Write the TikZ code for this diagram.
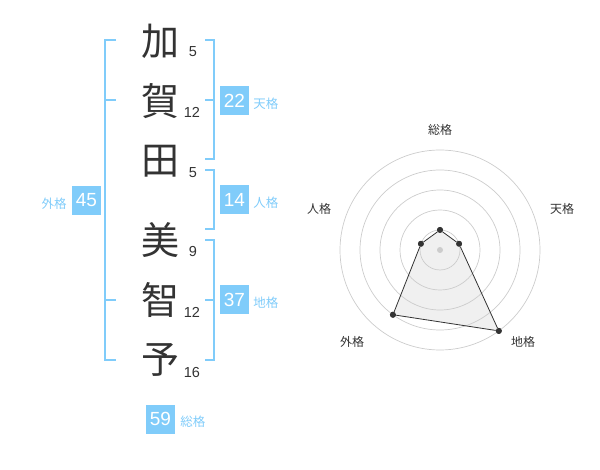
\documentclass[tikz,border=0pt]{standalone}
\usepackage{fontspec}
\setmainfont{Liberation Sans}
\newfontfamily\jfont{Noto Sans CJK JP}
\usetikzlibrary{positioning,calc}

\definecolor{kakublue}{RGB}{128,204,250}
\definecolor{inkgray}{RGB}{51,51,51}
\definecolor{ringgray}{RGB}{204,204,204}

\tikzset{
    brk/.style={draw=kakublue,line width=2pt},
    kaku/.style={fill=kakublue,text=white,minimum size=29pt,inner sep=0pt,font=\fontsize{19}{19}\selectfont},
    kakulbl/.style={text=kakublue,inner sep=0pt,font=\jfont\fontsize{12.5}{12.5}\selectfont},
    axislbl/.style={text=inkgray,inner sep=0pt,font=\jfont\fontsize{12}{12}\selectfont},
}

\begin{document}
\begin{tikzpicture}[x=1pt,y=-1pt]
    \useasboundingbox (0,0) rectangle (600,470);

        % name
        \begin{scope}[every node/.style={text=inkgray,inner sep=0pt,font=\jfont\fontsize{38}{38}\selectfont}]
            \node (k1) at (160,41) {加};
            \node (k2) at (160,101) {賀};
            \node (k3) at (160,161) {田};

            \node (k4) at (160,240) {美};
            \node (k5) at (160,300) {智};
            \node (k6) at (160,360) {予};
        \end{scope}
        \begin{scope}[every node/.style={text=inkgray,inner sep=0pt,font=\fontsize{14.5}{14.5}\selectfont}]
            \node (s1) at (193,52) {5};
            \node (s2) at (192,112.5) {12};
            \node (s3) at (193,172.5) {5};
            \node (s4) at (193,252) {9};
            \node (s5) at (192,312.5) {12};
            \node (s6) at (192,372.5) {16};
        \end{scope}

        % brackets
        \draw[brk] (116,40) -- (105,40) -- (105,360) -- (116,360);
        \draw[brk] (105,100) -- (116,100);
        \draw[brk] (105,300) -- (116,300);
        \draw[brk] (205,40) -- (214,40) -- (214,159) -- (205,159);
        \draw[brk] (205,100) -- (214,100);
        \draw[brk] (205,170) -- (214,170) -- (214,229) -- (205,229);
        \draw[brk] (205,240) -- (214,240) -- (214,360) -- (205,360);
        \draw[brk] (205,300) -- (214,300);

        % kaku
        \node[kaku] (ten) at (234.5,101) {22};
        \node[kaku] (jin) at (234.5,200) {14};
        \node[kaku] (chi) at (234.5,300) {37};
        \node[kaku] (gai) at (86.5,200.5) {45};
        \node[kaku] (sou) at (160.5,419) {59};

        \node[kakulbl,right=4pt of ten,yshift=-3pt] (tenl) {天格};
        \node[kakulbl,right=4pt of jin,yshift=-3pt] (jinl) {人格};
        \node[kakulbl,right=4pt of chi,yshift=-3pt] (chil) {地格};
        \node[kakulbl,left=5pt of gai,yshift=-3pt] (gail) {外格};
        \node[kakulbl,right=5pt of sou,yshift=-3pt] (soul) {総格};

        % radar
        \coordinate (c) at (440,250);
        \begin{scope}[every node/.style={circle,fill=inkgray,inner sep=0pt,minimum size=6pt}]
            \node (p1) at ($(c)+(-90:20)$) {};
            \node (p2) at ($(c)+(-18:20)$) {};
            \node (p3) at ($(c)+(54:100)$) {};
            \node (p4) at ($(c)+(126:80)$) {};
            \node (p5) at ($(c)+(198:20)$) {};
        \end{scope}
        \fill[black!6] (p1.center) -- (p2.center) -- (p3.center) -- (p4.center) -- (p5.center) -- cycle;
        \foreach \r in {20,40,60,80,100}
            \draw[ringgray,line width=0.7pt] (c) circle (\r pt);
        \fill[ringgray] (c) circle (3pt);
        \begin{scope}[every edge/.style={draw=inkgray,line width=0.8pt}]
            \path [-] (p1) edge (p2);
            \path [-] (p2) edge (p3);
            \path [-] (p3) edge (p4);
            \path [-] (p4) edge (p5);
            \path [-] (p5) edge (p1);
        \end{scope}
        \foreach \n in {p1,p2,p3,p4,p5}
            \fill[inkgray] (\n) circle (3pt);

        \node[axislbl] (a1) at (440,130) {総格};
        \node[axislbl] (a2) at (562,208.5) {天格};
        \node[axislbl] (a3) at (523,342) {地格};
        \node[axislbl] (a4) at (352,342) {外格};
        \node[axislbl] (a5) at (319,208.5) {人格};
\end{tikzpicture}
\end{document}
